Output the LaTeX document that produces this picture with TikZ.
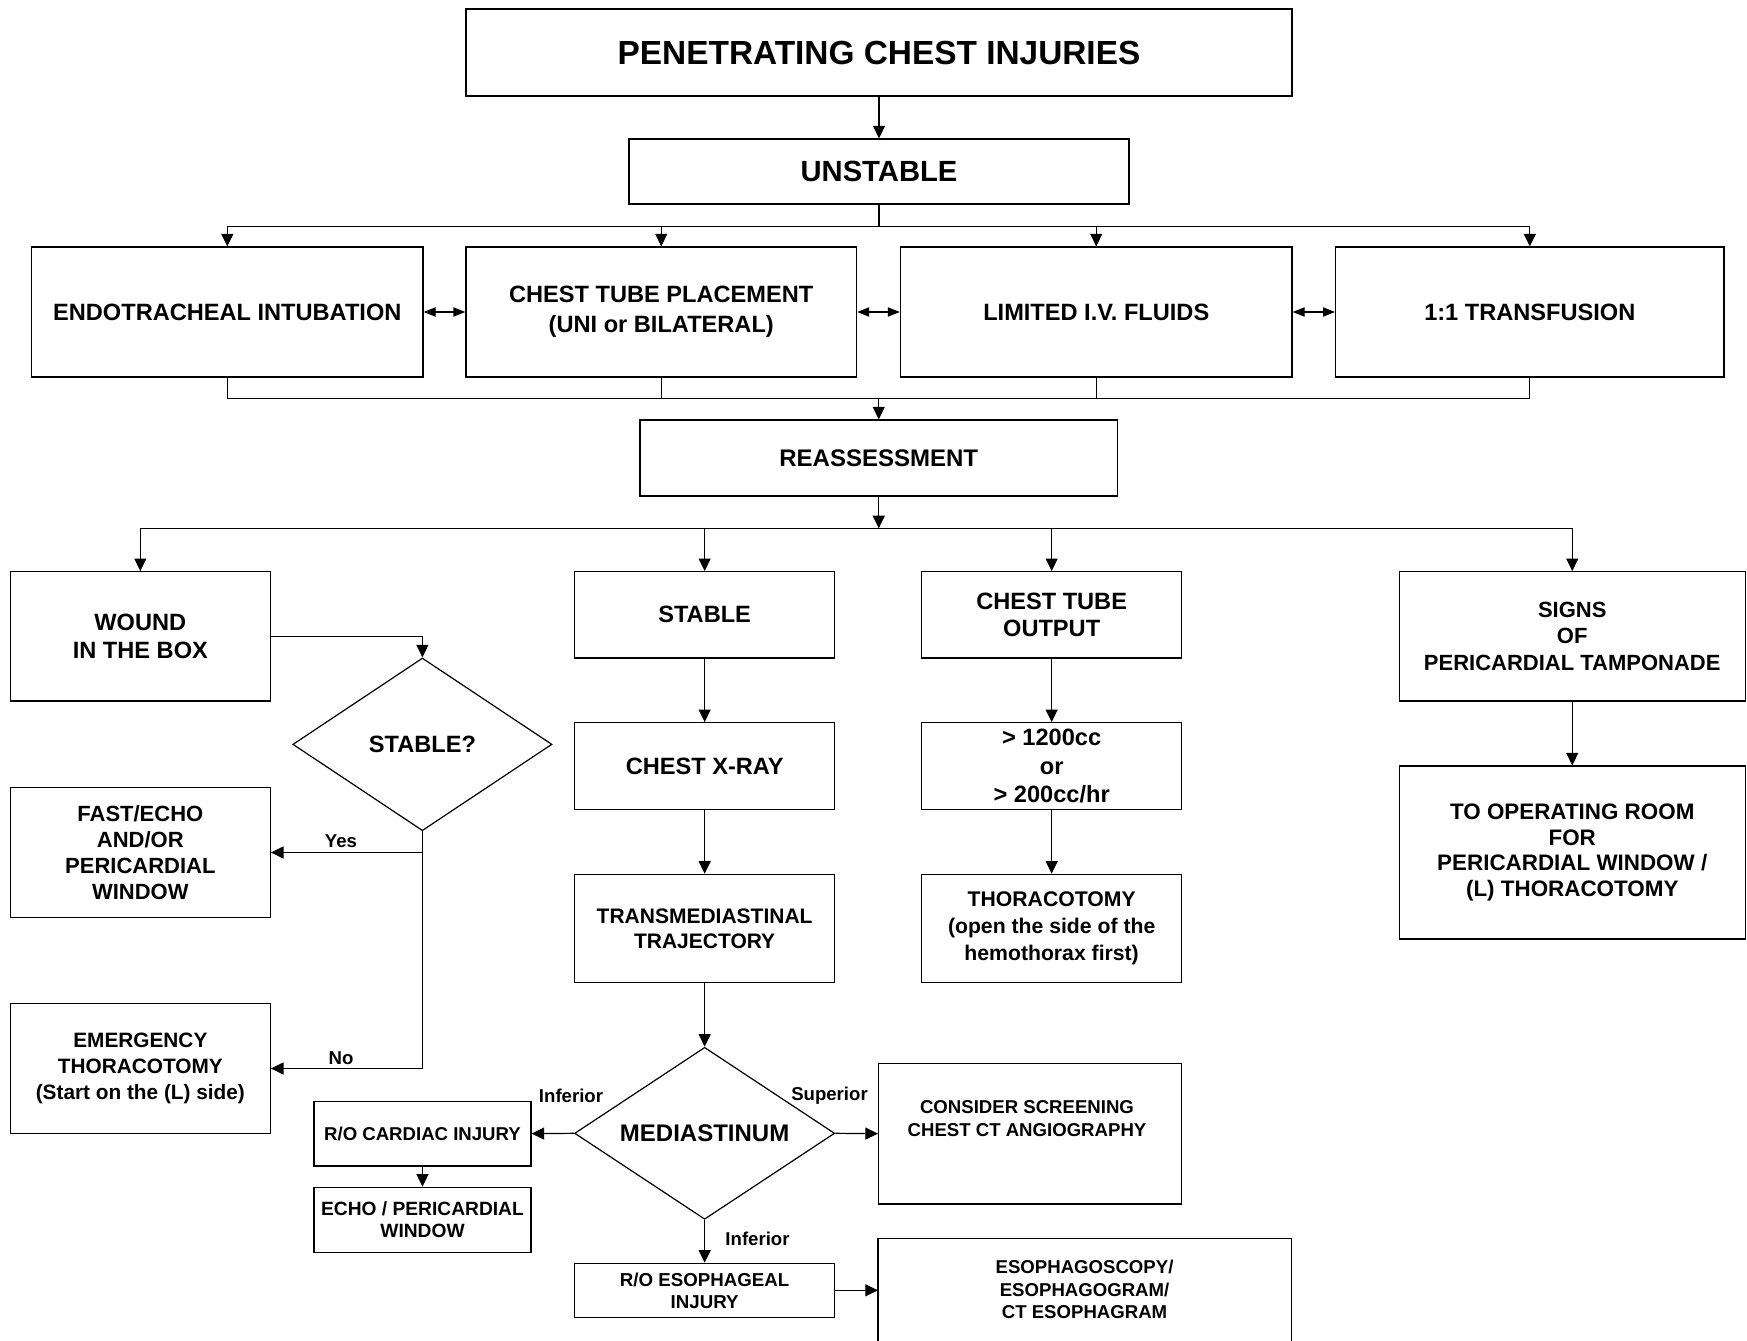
\documentclass[tikz,border=0pt]{standalone}
\usepackage{fontspec}
\setmainfont{Liberation Sans}
\usetikzlibrary{arrows.meta,shapes.geometric}
\newcommand\fsz[2]{\fontsize{#1}{#2}\selectfont}
\begin{document}
\begin{tikzpicture}[x=0.5pt,y=-0.5pt,
  box/.style={draw, line width=0.6pt, rectangle, inner sep=0pt, align=center, font=\bfseries\fsz{11.8}{14.5}},
  dia/.style={draw, diamond, aspect=1.5, line width=0.6pt, inner sep=0pt, align=center},
  arr/.style={line width=0.6pt, -{Triangle[length=6.3pt,width=6pt]}},
  darr/.style={line width=0.6pt, {Triangle[length=6pt,width=4.6pt]}-{Triangle[length=6pt,width=4.6pt]}},
  ln/.style={line width=0.6pt},
  lbl/.style={font=\bfseries\fsz{9.3}{11}, inner sep=0pt},
  txt/.style={inner sep=0pt, align=center}]
\useasboundingbox (0,0) rectangle (1747,1340);

% top
\node[box, minimum width=413pt, minimum height=43.5pt, font=\bfseries\fsz{16.7}{19}] (title) at (879,52.5) {PENETRATING CHEST INJURIES};
\node[box, minimum width=250pt, minimum height=32.5pt, font=\bfseries\fsz{14.6}{17}] (unstable) at (879,171.5) {UNSTABLE};

\node[box, minimum width=195.7pt, minimum height=65pt] (endo) at (227.3,312) {ENDOTRACHEAL INTUBATION};
\node[box, minimum width=195.25pt, minimum height=65pt, font=\bfseries\fsz{11.8}{15}] (ctube) at (661.25,312) {CHEST TUBE PLACEMENT\\(UNI or BILATERAL)};
\node[box, minimum width=195.75pt, minimum height=65pt] (fluids) at (1096.25,312) {LIMITED I.V. FLUIDS};
\node[box, minimum width=194.2pt, minimum height=65pt] (transf) at (1529.8,312) {1:1 TRANSFUSION};

\node[box, minimum width=238.75pt, minimum height=38pt, font=\bfseries\fsz{12}{14}] (reass) at (878.75,458) {REASSESSMENT};

% second level
\node[box, minimum width=130pt, minimum height=64.65pt, font=\bfseries\fsz{11.8}{14.3}] (wound) at (140.35,636.35) {WOUND\\IN THE BOX};
\node[box, minimum width=130.05pt, minimum height=43.15pt] (stable) at (704.65,614.85) {STABLE};
\node[box, minimum width=130.15pt, minimum height=43.15pt, font=\bfseries\fsz{11.8}{13.65}] (ctout) at (1051.65,614.85) {CHEST TUBE\\OUTPUT};
\node[box, minimum width=173.05pt, minimum height=64.65pt, font=\bfseries\fsz{11}{13.1}] (signs) at (1572.25,636.35) {SIGNS\\OF\\PERICARDIAL TAMPONADE};

\node[dia, minimum width=129.6pt, minimum height=86.35pt, font=\bfseries\fsz{11.8}{14}] (stabq) at (422.4,744.35) {STABLE?};
\node[box, minimum width=130.05pt, minimum height=43.3pt] (xray) at (704.65,766) {CHEST X-RAY};
\node[box, minimum width=130.15pt, minimum height=43.3pt, font=\bfseries\fsz{11.8}{14.3}] (g1200) at (1051.65,766) {> 1200cc\\or\\> 200cc/hr};

\node[box, minimum width=130pt, minimum height=64.8pt, font=\bfseries\fsz{11}{12.9}] (fast) at (140.35,852.5) {FAST/ECHO\\AND/OR\\PERICARDIAL\\WINDOW};
\node[box, minimum width=173.05pt, minimum height=86.5pt, font=\bfseries\fsz{11.2}{12.9}] (orroom) at (1572.25,852.5) {TO OPERATING ROOM\\FOR\\PERICARDIAL WINDOW /\\(L) THORACOTOMY};

\node[box, minimum width=130.05pt, minimum height=54pt, font=\bfseries\fsz{10.5}{12.5}] (transmed) at (704.65,928.3) {TRANSMEDIASTINAL\\TRAJECTORY};
\node[box, minimum width=130.15pt, minimum height=54pt, font=\bfseries\fsz{10.6}{13.3}] (thor) at (1051.65,928.3) {THORACOTOMY\\(open the side of the\\hemothorax first)};

\node[box, minimum width=130pt, minimum height=65.2pt, font=\bfseries\fsz{10.4}{12.85}] (emerg) at (140.35,1068.5) {EMERGENCY\\THORACOTOMY\\(Start on the (L) side)};

\node[dia, minimum width=130.05pt, minimum height=86pt, font=\bfseries\fsz{12}{14}] (medi) at (704.65,1133.3) {MEDIASTINUM};
\node[box, minimum width=108.5pt, minimum height=32.35pt, font=\bfseries\fsz{9.3}{11}] (cardiac) at (422.5,1133.65) {R/O CARDIAC INJURY};
\node[box, minimum width=108.5pt, minimum height=32.5pt, font=\bfseries\fsz{9.6}{11}] (echo) at (422.5,1219.8) {ECHO / PERICARDIAL\\WINDOW};
\node[box, minimum width=151.6pt, minimum height=70.35pt] (consider) at (1030.2,1133.65) {};
\node[txt, font=\bfseries\fsz{9.3}{11.5}] (considert) at (1027,1119) {CONSIDER SCREENING\\CHEST CT ANGIOGRAPHY};
\node[box, minimum width=130.05pt, minimum height=27pt, font=\bfseries\fsz{9.35}{11}] (esoinj) at (704.65,1290.3) {R/O ESOPHAGEAL\\INJURY};
\node[box, draw=none, minimum width=206pt, minimum height=50.5pt, font=\bfseries\fsz{9.3}{11.4}] (esoscopy) at (1084.55,1289.5) {ESOPHAGOSCOPY/\\ESOPHAGOGRAM/\\CT ESOPHAGRAM};
\draw[ln] (esoscopy.south west) |- (esoscopy.north east) -- (esoscopy.south east);

% connectors top
\draw[arr] (title.south) -- (unstable.north);
\coordinate (b1) at (879,226.7);
\draw[ln] (unstable.south) -- (b1);
\draw[arr] (b1) -| (endo.north);
\draw[arr] (b1) -| (ctube.north);
\draw[arr] (b1) -| (fluids.north);
\draw[arr] (b1) -| (transf.north);
\draw[darr] (endo.east) -- (ctube.west);
\draw[darr] (ctube.east) -- (fluids.west);
\draw[darr] (fluids.east) -- (transf.west);
\coordinate (m1) at (878.75,398.5);
\draw[ln] (endo.south) |- (m1) -| (transf.south);
\draw[ln] (ctube.south) -- (ctube.south |- m1);
\draw[ln] (fluids.south) -- (fluids.south |- m1);
\draw[arr] (m1) -- (reass.north);

% second bus
\coordinate (b2) at (878.75,528.3);
\draw[arr] (reass.south) -- (b2);
\draw[arr] (b2) -| (wound.north);
\draw[arr] (b2) -| (stable.north);
\draw[arr] (b2) -| (ctout.north);
\draw[arr] (b2) -| (signs.north);

% left branch
\draw[arr] (wound.east) -| (stabq.north);
\draw[arr] (stabq.south) |- (fast.east);
\draw[arr] (stabq.south) |- (emerg.east);
\node[lbl] (yes) at (341,840.7) {Yes};
\node[lbl] (no) at (341,1057.7) {No};

% middle
\draw[arr] (stable.south) -- (xray.north);
\draw[arr] (xray.south) -- (transmed.north);
\draw[arr] (transmed.south) -- (medi.north);
\draw[arr] (medi.west) -- (cardiac.east);
\draw[arr] (medi.east) -- (consider.west);
\draw[arr] (medi.south) -- (esoinj.north);
\draw[arr] (cardiac.south) -- (echo.north);
\draw[arr] (esoinj.east) -- (esoinj.east -| esoscopy.west);
\node[lbl] (inf1) at (571,1095.7) {Inferior};
\node[lbl] (sup) at (829.5,1095.7) {Superior};
\node[lbl] (inf2) at (757.5,1238.7) {Inferior};

% right
\draw[arr] (ctout.south) -- (g1200.north);
\draw[arr] (g1200.south) -- (thor.north);
\draw[arr] (signs.south) -- (orroom.north);
\end{tikzpicture}
\end{document}
